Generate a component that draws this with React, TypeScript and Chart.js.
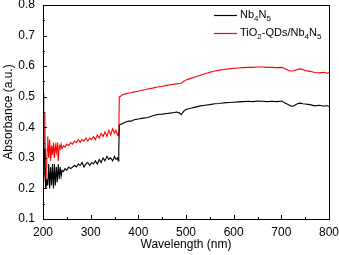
import React, { useEffect, useRef } from "react";
import { Chart, registerables } from "chart.js";

Chart.register(...registerables);

const wavelengths = [
  200, 201, 202, 203, 204, 205, 206, 207, 208, 209,
  210, 212, 214, 216, 218, 220, 222, 224, 226, 228,
  230, 232, 234, 236, 238, 240, 243, 246, 250, 254,
  258, 262, 266, 270, 274, 278, 282, 286, 290, 294,
  298, 302, 306, 310, 314, 318, 322, 326, 330, 334,
  338, 342, 346, 350, 353, 356, 358, 359, 360, 362,
  365, 370, 375, 380, 385, 390, 395, 400, 410, 420,
  430, 440, 450, 460, 470, 480, 485, 490, 495, 500,
  510, 520, 530, 540, 550, 560, 570, 580, 590, 600,
  610, 620, 630, 640, 650, 660, 670, 680, 690, 700,
  705, 710, 715, 720, 725, 730, 735, 740, 745, 750,
  760, 770, 780, 790, 795, 800,
];

const nb4n5 = [
  0.51, 0.40, 0.29, 0.33, 0.24, 0.22, 0.20, 0.23, 0.21, 0.22,
  0.21, 0.28, 0.20, 0.27, 0.21, 0.28, 0.20, 0.28, 0.21, 0.27,
  0.22, 0.28, 0.23, 0.27, 0.24, 0.26, 0.255, 0.265, 0.26, 0.27,
  0.265, 0.27, 0.275, 0.27, 0.28, 0.275, 0.285, 0.27, 0.28, 0.285,
  0.275, 0.285, 0.28, 0.29, 0.28, 0.295, 0.285, 0.30, 0.29, 0.305,
  0.295, 0.30, 0.29, 0.305, 0.295, 0.30, 0.29, 0.32, 0.405, 0.41,
  0.41, 0.415, 0.418, 0.42, 0.42, 0.424, 0.426, 0.427, 0.43, 0.432,
  0.438, 0.442, 0.443, 0.445, 0.447, 0.45, 0.448, 0.441, 0.452, 0.458,
  0.462, 0.466, 0.47, 0.472, 0.474, 0.477, 0.478, 0.48, 0.481, 0.482,
  0.483, 0.484, 0.485, 0.484, 0.486, 0.485, 0.484, 0.485, 0.484, 0.486,
  0.482, 0.478, 0.474, 0.47, 0.469, 0.474, 0.478, 0.479, 0.477, 0.476,
  0.474, 0.47, 0.472, 0.469, 0.471, 0.468,
];

const tio2Nb4n5 = [
  0.30, 0.31, 0.29, 0.33, 0.45, 0.24, 0.20, 0.27, 0.30, 0.33,
  0.37, 0.30, 0.36, 0.29, 0.34, 0.31, 0.35, 0.30, 0.34, 0.32,
  0.35, 0.29, 0.34, 0.33, 0.345, 0.33, 0.34, 0.335, 0.345, 0.34,
  0.35, 0.345, 0.355, 0.35, 0.36, 0.35, 0.36, 0.355, 0.365, 0.355,
  0.365, 0.36, 0.37, 0.36, 0.375, 0.365, 0.38, 0.37, 0.385, 0.37,
  0.39, 0.375, 0.395, 0.38, 0.39, 0.375, 0.38, 0.37, 0.50, 0.50,
  0.505, 0.508, 0.51, 0.512, 0.513, 0.515, 0.517, 0.518, 0.522, 0.525,
  0.528, 0.532, 0.534, 0.537, 0.54, 0.542, 0.543, 0.544, 0.55, 0.555,
  0.56, 0.565, 0.57, 0.575, 0.58, 0.584, 0.587, 0.589, 0.591, 0.593,
  0.594, 0.595, 0.596, 0.596, 0.597, 0.597, 0.596, 0.596, 0.595, 0.596,
  0.594, 0.59, 0.586, 0.584, 0.585, 0.587, 0.59, 0.591, 0.589, 0.586,
  0.583, 0.579, 0.578, 0.58, 0.577, 0.579,
];

const xTicks = [200, 300, 400, 500, 600, 700, 800];
const yTicks = [0.1, 0.2, 0.3, 0.4, 0.5, 0.6, 0.7, 0.8];

const seriesNames = ["Nb4N5", "TiO2-QDs/Nb4N5"];
const seriesColors = ["#000000", "#ff0000"];
// legend text split into [text, isSubscript] runs
const legendRuns: [string, boolean][][] = [
  [["Nb", false], ["4", true], ["N", false], ["5", true]],
  [["TiO", false], ["2", true], ["-QDs/Nb", false], ["4", true], ["N", false], ["5", true]],
];

const FONT = "'Liberation Sans', Arial, sans-serif";

const framePlugin = {
  id: "frameTicks",
  afterDraw(chart: any) {
    const { ctx, chartArea, scales } = chart;
    const { left, right, top, bottom } = chartArea;
    ctx.save();
    ctx.strokeStyle = "#000";
    ctx.lineWidth = 1;
    ctx.strokeRect(Math.round(left) + 0.5, Math.round(top) + 0.5, Math.round(right - left), Math.round(bottom - top));
    ctx.beginPath();
    for (let v = 200; v <= 800; v += 50) {
      const px = Math.round(scales.x.getPixelForValue(v)) + 0.5;
      const len = v % 100 === 0 ? 4 : 2;
      ctx.moveTo(px, bottom);
      ctx.lineTo(px, bottom - len);
    }
    for (let i = 0; i <= 14; i++) {
      const v = 0.1 + i * 0.05;
      const py = Math.round(scales.y.getPixelForValue(v)) + 0.5;
      const len = i % 2 === 0 ? 4 : 2;
      ctx.moveTo(left, py);
      ctx.lineTo(left + len, py);
    }
    ctx.stroke();

    // legend
    const lx0 = 214;
    const lx1 = 237;
    const tx = 240;
    const rows = [15, 33];
    rows.forEach((ry, i) => {
      ctx.strokeStyle = seriesColors[i];
      ctx.lineWidth = 1.2;
      ctx.beginPath();
      ctx.moveTo(lx0, ry + 0.5);
      ctx.lineTo(lx1, ry + 0.5);
      ctx.stroke();
      let x = tx;
      ctx.fillStyle = "#000";
      ctx.textBaseline = "middle";
      ctx.textAlign = "left";
      legendRuns[i].forEach(([t, sub]) => {
        ctx.font = sub ? `8px ${FONT}` : `11px ${FONT}`;
        ctx.fillText(t, x, sub ? ry + 4 : ry);
        x += ctx.measureText(t).width;
      });
    });
    ctx.restore();
  },
};

export default function App() {
  const ref = useRef<HTMLCanvasElement>(null);
  useEffect(() => {
    if (!ref.current) return;
    const chart = new Chart(ref.current, {
      type: "line",
      data: {
        datasets: [
          {
            label: seriesNames[0],
            data: wavelengths.map((w, i) => ({ x: w, y: nb4n5[i] })),
            borderColor: seriesColors[0],
            borderWidth: 1.1,
            pointRadius: 0,
            tension: 0,
          },
          {
            label: seriesNames[1],
            data: wavelengths.map((w, i) => ({ x: w, y: tio2Nb4n5[i] })),
            borderColor: seriesColors[1],
            borderWidth: 1.1,
            pointRadius: 0,
            tension: 0,
          },
        ],
      },
      options: {
        animation: false,
        responsive: true,
        maintainAspectRatio: false,
        layout: { padding: { top: 5, right: 10, left: 0, bottom: 0 } },
        plugins: { legend: { display: false }, tooltip: { enabled: false } },
        scales: {
          x: {
            type: "linear",
            min: 200,
            max: 800,
            afterBuildTicks: (s: any) => {
              s.ticks = xTicks.map((v) => ({ value: v }));
            },
            afterFit: (s: any) => {
              s.height = 36;
              s.paddingLeft = 0;
              s.paddingRight = 0;
            },
            grid: { display: false, drawTicks: false },
            border: { display: false },
            ticks: {
              padding: 6,
              color: "#000",
              font: { family: FONT, size: 12 },
              maxRotation: 0,
            },
            title: {
              display: true,
              text: "Wavelength (nm)",
              color: "#000",
              font: { family: FONT, size: 12 },
              padding: { top: 0, bottom: 3 },
            },
          },
          y: {
            type: "linear",
            min: 0.1,
            max: 0.8,
            afterBuildTicks: (s: any) => {
              s.ticks = yTicks.map((v) => ({ value: v }));
            },
            afterFit: (s: any) => {
              s.width = 43;
              s.paddingTop = 0;
              s.paddingBottom = 0;
            },
            grid: { display: false, drawTicks: false },
            border: { display: false },
            ticks: {
              padding: 8,
              color: "#000",
              font: { family: FONT, size: 12 },
              callback: (v: any) => Number(v).toFixed(1),
            },
            title: {
              display: true,
              text: "Absorbance (a.u.)",
              color: "#000",
              font: { family: FONT, size: 12 },
              padding: { top: 1, bottom: 0 },
            },
          },
        },
      },
      plugins: [framePlugin],
    });
    return () => chart.destroy();
  }, []);
  return (
    <div style={{ position: "fixed", left: 0, top: 0, width: 339, height: 255, background: "#fff" }}>
      <canvas ref={ref} />
    </div>
  );
}
